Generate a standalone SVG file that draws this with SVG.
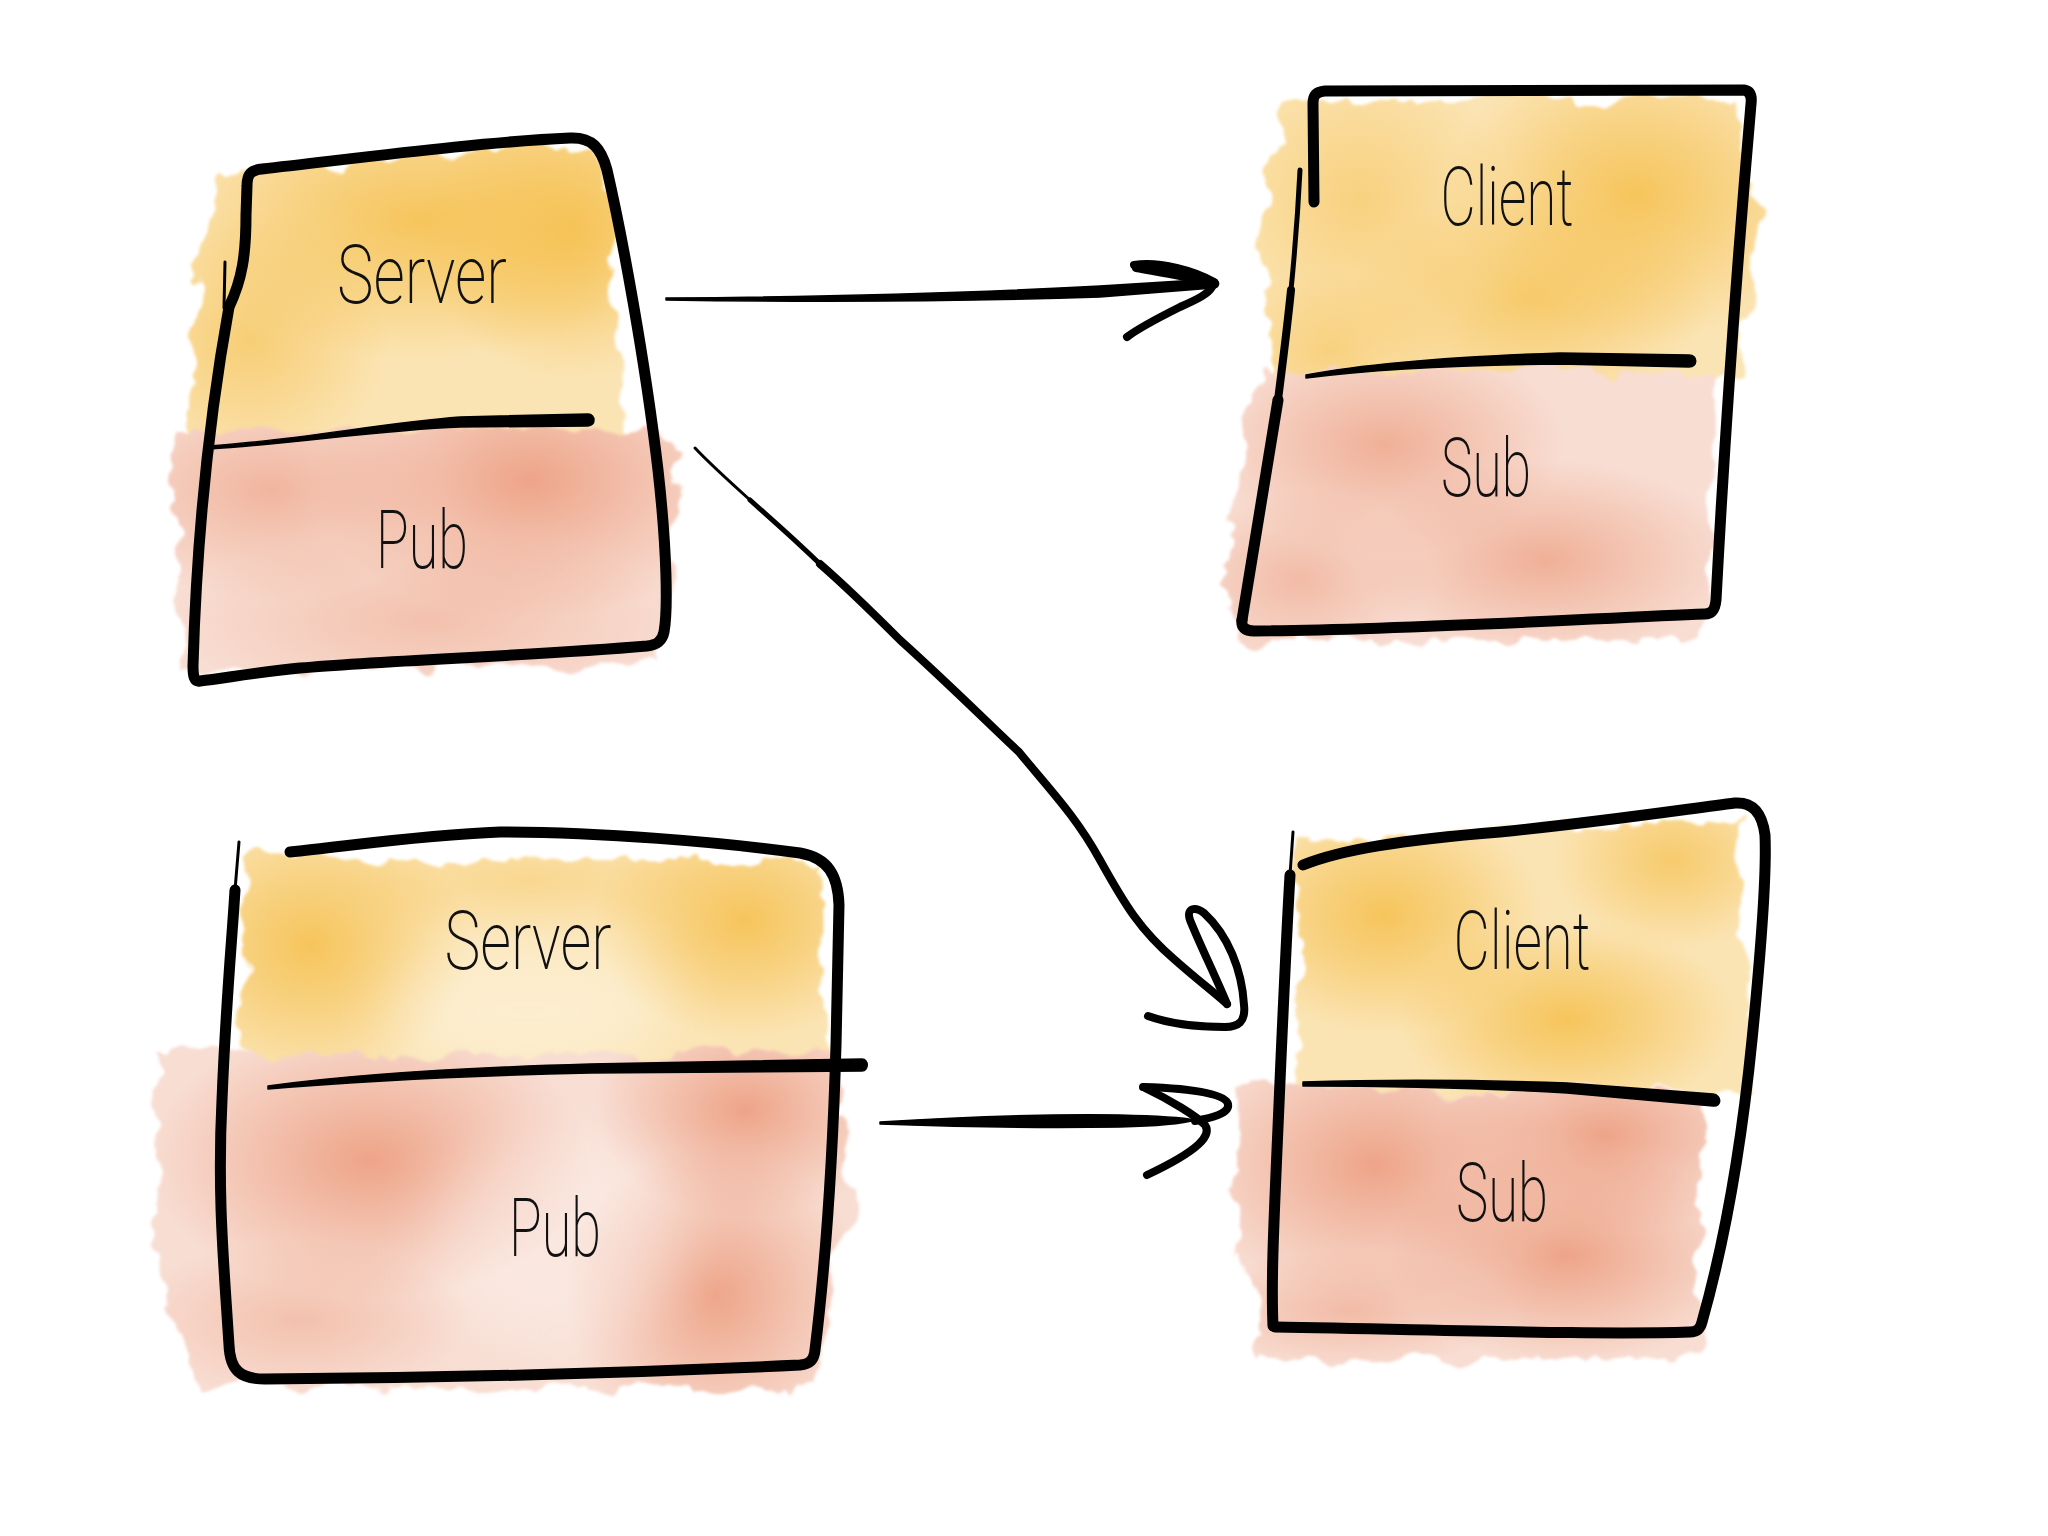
<svg xmlns="http://www.w3.org/2000/svg" width="2048" height="1536" viewBox="0 0 2048 1536">
<defs>
<style>
.ln{fill:none;stroke:#000;stroke-linecap:round;stroke-linejoin:round;stroke-width:11}
.md{fill:none;stroke:#000;stroke-linecap:round;stroke-linejoin:round;stroke-width:8}
.sm{fill:none;stroke:#000;stroke-linecap:round;stroke-linejoin:round;stroke-width:5}
.th{fill:none;stroke:#000;stroke-linecap:round;stroke-width:3}
.fl{fill:#000;stroke:#000;stroke-width:1.5;stroke-linejoin:round}
.lbl{font-family:Roboto,'Open Sans','DejaVu Sans',sans-serif;font-weight:200;font-size:82px;fill:#111;text-anchor:middle}
.yb{fill:#fbe4b4}
.sb{fill:#f8ddd2}
</style>
<filter id="rough" x="-10%" y="-10%" width="120%" height="120%">
<feTurbulence type="fractalNoise" baseFrequency="0.025" numOctaves="3" seed="4"/>
<feDisplacementMap in="SourceGraphic" scale="34" xChannelSelector="R" yChannelSelector="G"/>
<feGaussianBlur stdDeviation="1.5"/>
</filter>
<filter id="soft" x="-50%" y="-50%" width="200%" height="200%">
<feGaussianBlur stdDeviation="30"/>
</filter>
<radialGradient id="ys"><stop offset="0" stop-color="#f5bf4c" stop-opacity="0.85"/><stop offset="0.5" stop-color="#f5bf4c" stop-opacity="0.45"/><stop offset="1" stop-color="#f5bf4c" stop-opacity="0"/></radialGradient>
<radialGradient id="ss"><stop offset="0" stop-color="#eb9676" stop-opacity="0.8"/><stop offset="0.5" stop-color="#eb9676" stop-opacity="0.4"/><stop offset="1" stop-color="#eb9676" stop-opacity="0"/></radialGradient>
<mask id="my1"><path d="M215,172 L590,142 L612,200 L625,440 L190,450 L196,300 Z" fill="#fff" filter="url(#rough)"/></mask>
<mask id="ms1"><path d="M175,430 L650,427 L680,455 L670,560 L660,665 L190,672 L172,520 Z" fill="#fff" filter="url(#rough)"/></mask>
<mask id="my2"><path d="M1280,100 L1735,100 L1757,200 L1740,380 L1270,385 L1264,260 Z" fill="#fff" filter="url(#rough)"/></mask>
<mask id="ms2"><path d="M1260,368 L1710,372 L1712,500 L1705,640 L1235,640 L1228,540 Z" fill="#fff" filter="url(#rough)"/></mask>
<mask id="my3"><path d="M245,857 L820,862 L825,1065 L240,1072 Z" fill="#fff" filter="url(#rough)"/></mask>
<mask id="ms3"><path d="M160,1054 L835,1052 L849,1200 L812,1390 L200,1385 L154,1250 Z" fill="#fff" filter="url(#rough)"/></mask>
<mask id="my4"><path d="M1293,842 L1740,817 L1752,1090 L1295,1090 Z" fill="#fff" filter="url(#rough)"/></mask>
<mask id="ms4"><path d="M1240,1086 L1700,1092 L1700,1358 L1260,1360 L1234,1200 Z" fill="#fff" filter="url(#rough)"/></mask>
</defs>
<rect width="2048" height="1536" fill="#fff"/>

<g id="server-pub-top">
<g mask="url(#my1)">
<rect class="yb" x="150" y="120" width="520" height="360"/>
<ellipse cx="420" cy="220" rx="260" ry="140" fill="url(#ys)"/>
<ellipse cx="570" cy="230" rx="150" ry="150" fill="url(#ys)"/>
<ellipse cx="250" cy="340" rx="140" ry="130" fill="url(#ys)" opacity="0.7"/>
</g>
<g mask="url(#ms1)">
<rect class="sb" x="140" y="400" width="560" height="300"/>
<ellipse cx="530" cy="480" rx="220" ry="140" fill="url(#ss)"/>
<ellipse cx="270" cy="490" rx="180" ry="110" fill="url(#ss)" opacity="0.7"/>
<ellipse cx="430" cy="620" rx="260" ry="90" fill="url(#ss)" opacity="0.5"/>
</g>
<path class="ln" d="M229,307 C242,280 246,255 246,215 L247,186 C247,174 251,170 262,169 C360,158 480,142 570,138 C592,137 601,148 607,170 C622,235 645,360 658,470 C667,550 668,610 664,632 C662,642 656,645 647,646 C530,656 390,660 300,668 C260,672 225,678 200,681 C194,682 193,676 193,666 C196,560 205,440 229,307"/>
<path class="th" d="M225,262 L224,308"/>
<path class="fl" d="M209,446 C300,440 380,423 460,417 L588,414 C596,414 596,426 588,426 L460,427 C380,430 300,443 209,449 Z"/>
<text class="lbl" x="422" y="303" textLength="170" lengthAdjust="spacingAndGlyphs">Server</text>
<text class="lbl" x="422" y="568" textLength="92" lengthAdjust="spacingAndGlyphs">Pub</text>
</g>

<g id="client-sub-top">
<g mask="url(#my2)">
<rect class="yb" x="1230" y="80" width="550" height="330"/>
<ellipse cx="1635" cy="195" rx="190" ry="150" fill="url(#ys)"/>
<ellipse cx="1530" cy="300" rx="180" ry="110" fill="url(#ys)" opacity="0.8"/>
<ellipse cx="1360" cy="200" rx="150" ry="150" fill="url(#ys)" opacity="0.6"/>
<ellipse cx="1330" cy="350" rx="120" ry="80" fill="url(#ys)" opacity="0.6"/>
</g>
<g mask="url(#ms2)">
<rect class="sb" x="1200" y="340" width="540" height="330"/>
<ellipse cx="1385" cy="445" rx="180" ry="110" fill="url(#ss)" opacity="0.8"/>
<ellipse cx="1545" cy="560" rx="190" ry="100" fill="url(#ss)" opacity="0.8"/>
<ellipse cx="1300" cy="580" rx="130" ry="90" fill="url(#ss)" opacity="0.6"/>
</g>
<path class="ln" d="M1314,202 L1313,104 C1313,95 1316,92 1325,91 L1744,90 C1750,91 1752,96 1751,104 C1740,230 1725,430 1716,600 C1715,610 1712,614 1705,614 C1600,618 1400,630 1254,631 C1245,631 1241,627 1242,620"/>
<path class="sm" d="M1300,170 C1298,210 1295,250 1291,290"/>
<path class="md" d="M1291,290 C1287,330 1283,360 1278,400"/>
<path class="ln" d="M1278,400 C1265,480 1252,560 1242,620"/>
<path class="fl" d="M1306,375 C1360,365 1440,357 1560,353 L1689,355 C1698,355 1698,367 1689,367 L1560,364 C1440,365 1360,371 1306,378 Z"/>
<text class="lbl" x="1507" y="225" textLength="133" lengthAdjust="spacingAndGlyphs">Client</text>
<text class="lbl" x="1486" y="496" textLength="90" lengthAdjust="spacingAndGlyphs">Sub</text>
</g>

<g id="server-pub-bottom">
<g mask="url(#my3)">
<rect class="yb" x="200" y="820" width="670" height="280"/>
<ellipse cx="310" cy="945" rx="160" ry="140" fill="url(#ys)"/>
<ellipse cx="745" cy="920" rx="150" ry="120" fill="url(#ys)"/>
<ellipse cx="530" cy="880" rx="220" ry="60" fill="url(#ys)" opacity="0.4"/>
<ellipse cx="528" cy="1010" rx="140" ry="70" fill="#fff" opacity="0.35" filter="url(#soft)"/>
</g>
<g mask="url(#ms3)">
<rect class="sb" x="130" y="1030" width="740" height="380"/>
<ellipse cx="370" cy="1160" rx="220" ry="140" fill="url(#ss)"/>
<ellipse cx="745" cy="1110" rx="150" ry="110" fill="url(#ss)"/>
<ellipse cx="715" cy="1295" rx="150" ry="150" fill="url(#ss)"/>
<ellipse cx="300" cy="1320" rx="170" ry="80" fill="url(#ss)" opacity="0.5"/>
<ellipse cx="560" cy="1240" rx="130" ry="110" fill="#fff" opacity="0.3" filter="url(#soft)"/>
</g>
<path class="ln" d="M290,852 C350,846 420,835 500,832 C600,832 720,842 800,853 C828,858 838,875 839,905 L836,1045 C833,1150 826,1260 815,1350 C814,1360 810,1364 800,1365 C650,1372 450,1378 265,1379 C240,1379 230,1370 229,1345 L226,1300 C222,1240 218,1180 222,1100 C226,1000 232,940 235,890"/>
<path class="th" d="M235,890 L239,842"/>
<path class="fl" d="M268,1086 C350,1075 450,1068 590,1064 L862,1059 C869,1059 869,1071 862,1071 L590,1073 C450,1076 350,1082 268,1089 Z"/>
<text class="lbl" x="528" y="969" textLength="167" lengthAdjust="spacingAndGlyphs">Server</text>
<text class="lbl" x="555" y="1256" textLength="92" lengthAdjust="spacingAndGlyphs">Pub</text>
</g>

<g id="client-sub-bottom">
<g mask="url(#my4)">
<rect class="yb" x="1260" y="790" width="520" height="330"/>
<ellipse cx="1384" cy="915" rx="160" ry="120" fill="url(#ys)"/>
<ellipse cx="1567" cy="1020" rx="170" ry="100" fill="url(#ys)"/>
<ellipse cx="1672" cy="860" rx="120" ry="90" fill="url(#ys)" opacity="0.8"/>
</g>
<g mask="url(#ms4)">
<rect class="sb" x="1210" y="1070" width="520" height="310"/>
<ellipse cx="1375" cy="1165" rx="190" ry="140" fill="url(#ss)"/>
<ellipse cx="1605" cy="1135" rx="170" ry="100" fill="url(#ss)"/>
<ellipse cx="1567" cy="1255" rx="180" ry="110" fill="url(#ss)"/>
<ellipse cx="1350" cy="1310" rx="160" ry="60" fill="url(#ss)" opacity="0.6"/>
</g>
<path class="ln" d="M1303,865 C1340,850 1400,840 1500,832 C1600,822 1680,810 1735,803 C1752,802 1762,812 1765,835 C1767,880 1760,960 1752,1040 C1743,1130 1728,1230 1702,1322 C1700,1330 1696,1332 1690,1332 C1600,1335 1450,1330 1275,1327"/>
<path class="th" d="M1293,832 L1290,875"/>
<path class="ln" d="M1290,875 C1285,960 1281,1060 1277,1150 C1274,1220 1271,1280 1273,1326"/>
<path class="fl" d="M1303,1082 C1400,1079 1480,1080 1567,1083 L1713,1094 C1722,1095 1722,1107 1713,1106 L1567,1093 C1480,1088 1400,1086 1303,1086 Z"/>
<text class="lbl" x="1522" y="969" textLength="137" lengthAdjust="spacingAndGlyphs">Client</text>
<text class="lbl" x="1502" y="1221" textLength="92" lengthAdjust="spacingAndGlyphs">Sub</text>
</g>

<g id="connectors">
<path class="fl" d="M666,298 C800,297 950,294 1100,286 L1213,279 C1220,279 1221,288 1213,288 L1100,297 C950,302 800,302 666,300 Z"/>
<path class="md" d="M1134,265 C1160,261 1195,271 1214,282 C1190,278 1160,272 1136,268"/>
<path class="md" d="M1212,287 C1208,294 1198,299 1180,307 C1160,317 1140,327 1127,337"/>

<path class="th" d="M695,448 C710,464 730,482 750,500"/>
<path class="sm" d="M750,500 C770,518 790,535 820,564"/>
<path class="md" d="M820,564 C850,590 870,610 900,640 C950,685 990,725 1019,752 C1050,790 1075,815 1100,860 C1125,905 1140,930 1175,960 C1200,982 1215,993 1227,1004"/>
<path class="md" d="M1227,1004 C1215,975 1200,945 1190,920 C1186,908 1195,906 1204,913 C1228,935 1242,970 1244,1005 C1246,1022 1238,1027 1225,1027 C1200,1027 1170,1024 1148,1016"/>

<path class="fl" d="M880,1122 C960,1117 1050,1114 1120,1115 C1160,1116 1185,1118 1196,1120 C1185,1123 1160,1126 1120,1127 C1050,1128 960,1127 880,1124 Z"/>
<path class="md" d="M1143,1087 C1180,1088 1225,1092 1228,1104 C1230,1114 1210,1118 1195,1121"/>
<path class="md" d="M1145,1088 C1170,1100 1195,1115 1205,1125 C1212,1135 1200,1150 1147,1175"/>
</g>
</svg>
